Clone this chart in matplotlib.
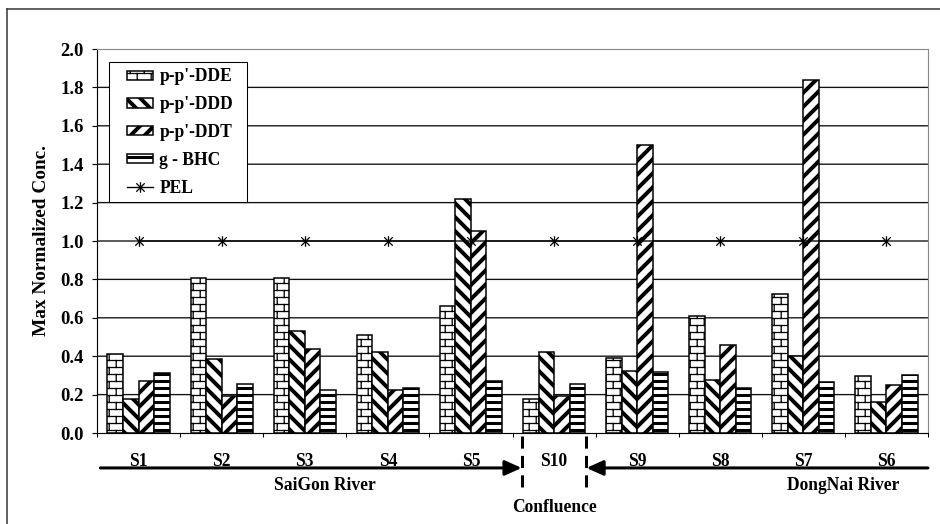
import numpy as np
import matplotlib
matplotlib.use("Agg")
import matplotlib.pyplot as plt
import matplotlib.hatch as mhatch
from matplotlib.path import Path
from matplotlib.lines import Line2D
from matplotlib.patches import Rectangle

# ---------------------------------------------------------------- data
sites = ["S1", "S2", "S3", "S4", "S5", "S10", "S9", "S8", "S7", "S6"]
dde = [0.41, 0.805, 0.805, 0.51, 0.66, 0.175, 0.39, 0.61, 0.725, 0.295]
ddd = [0.175, 0.385, 0.53, 0.42, 1.22, 0.42, 0.325, 0.275, 0.40, 0.16]
ddt = [0.27, 0.195, 0.44, 0.225, 1.05, 0.195, 1.50, 0.46, 1.84, 0.25]
bhc = [0.315, 0.255, 0.225, 0.235, 0.27, 0.255, 0.32, 0.235, 0.265, 0.30]
pel = [1.0, 1.0, 1.0, 1.0, 1.0, 1.0, 1.0, 1.0, 1.0, 1.0]
series_labels = ["p-p'-DDE", "p-p'-DDD", "p-p'-DDT", "g - BHC"]
pel_label = "PEL"
y_ticks = [0.0, 0.2, 0.4, 0.6, 0.8, 1.0, 1.2, 1.4, 1.6, 1.8, 2.0]
y_label = "Max Normalized Conc."
river_left = "SaiGon River"
river_right = "DongNai River"
junction = "Confluence"


# ------------------------------------------------------- brick hatch
class BrickHatch(mhatch.HatchPatternBase):
    """Running-bond brick courses, drawn for the 'O' hatch character."""

    def __init__(self, hatch, density):
        n = hatch.count("O")
        self.rows = int(n * density * 2)
        self.cols = int(n * density)
        self.num_vertices = (self.rows + (self.rows + 1) * self.cols) * 2

    def set_vertices_and_codes(self, vertices, codes):
        rows, cols = self.rows, self.cols
        k = 0
        for i in range(rows):
            y = (i + 0.5) / rows
            vertices[k] = (0.0, y)
            vertices[k + 1] = (1.0, y)
            k += 2
        for i in range(rows + 1):
            y0 = (i - 0.5) / rows
            shift = 0.5 / cols if i % 2 else 0.0
            for j in range(cols):
                xx = (j + 0.3) / cols + shift
                vertices[k] = (xx, y0)
                vertices[k + 1] = (xx, y0 + 1.0 / rows)
                k += 2
        codes[0::2] = Path.MOVETO
        codes[1::2] = Path.LINETO


mhatch._hatch_types = [BrickHatch if t is mhatch.LargeCircles else t
                       for t in mhatch._hatch_types]

# ------------------------------------------------------------ figure
DPI = 84
plt.rcParams["font.family"] = ["Liberation Serif", "DejaVu Serif"]
plt.rcParams["font.weight"] = "bold"
plt.rcParams["font.size"] = 15

fig = plt.figure(figsize=(940 / DPI, 524 / DPI), dpi=DPI)
fig.patch.set_facecolor("white")
ax = fig.add_axes([97 / 940, 1 - 433 / 524, (928 - 97) / 940, (433 - 49) / 524])

x = np.arange(len(sites))
width = 0.187
offsets = np.array([-1.5, -0.5, 0.5, 1.5]) * width
styles = [("O", 1.1), ("\\\\", 3.4), ("//", 3.4), ("--", 2.6)]

ax.set_xlim(-0.5, len(sites) - 0.5)
ax.set_ylim(0, 2.0)

# horizontal grid at every y tick
grid = ax.hlines(y_ticks[1:], -0.5, len(sites) - 0.5, colors="#111111",
                 linewidths=1.15, zorder=1)
grid.set_snap(False)

bar_sets = []
for vals, off, (hatch, hlw) in zip([dde, ddd, ddt, bhc], offsets, styles):
    with plt.rc_context({"hatch.linewidth": hlw}):
        bars = ax.bar(x + off, vals, width, facecolor="white",
                      edgecolor="black", linewidth=1.3, hatch=hatch, zorder=2)
    for b in bars:
        if hasattr(b, "set_hatch_linewidth"):
            b.set_hatch_linewidth(hlw)
    bar_sets.append(bars)

# asterisk marker: an x crossed by a vertical stroke
star = Path([(-1, -1), (1, 1), (-1, 1), (1, -1), (0, -1.25), (0, 1.25)],
            [Path.MOVETO, Path.LINETO] * 3)
pel_line, = ax.plot(x, pel, color="black", lw=1.15, marker=star,
                    markersize=9, markeredgewidth=1.1, markerfacecolor="none",
                    markeredgecolor="black", zorder=4, snap=False)

# axes
ax.set_yticks(y_ticks)
ax.set_yticklabels([f"{v:.1f}" for v in y_ticks])
ax.set_xticks(np.arange(len(sites) + 1) - 0.5)
ax.set_xticklabels([])
ax.tick_params(axis="y", direction="out", length=4.5, width=1, pad=7,
               labelsize=16)
ax.tick_params(axis="x", direction="out", length=3.5, width=0.9)
ax.set_ylabel(y_label, fontsize=16.5, fontweight="bold", labelpad=9)
for side in ("left", "bottom"):
    ax.spines[side].set_color("black")
    ax.spines[side].set_linewidth(1.0)
for side in ("top", "right"):
    ax.spines[side].set_color("#8a8a8a")
    ax.spines[side].set_linewidth(1.0)
    ax.spines[side].set_linestyle((0, (2, 1)))

# legend: entries without their own frame, boxed by a plain rectangle
leg = ax.legend(list(bar_sets) + [pel_line], series_labels + [pel_label],
                loc="upper left", bbox_to_anchor=(0.0361, 0.9495),
                borderaxespad=0, borderpad=0, fontsize=15,
                handlelength=1.49, handleheight=0.42, handletextpad=0.36,
                labelspacing=0.62, frameon=False)
leg.set_zorder(6)
for h, (hatch, hlw) in zip(leg.legend_handles[:4], styles):
    if hasattr(h, "set_hatch_linewidth"):
        h.set_hatch_linewidth(hlw)
ax.add_patch(Rectangle((0.01444, 0.6016), 0.1661, 0.3646,
                       transform=ax.transAxes, facecolor="white",
                       edgecolor="black", lw=0.9, zorder=5.5, clip_on=False))

# site row, river arrows and confluence markers under the axis
tr = ax.get_xaxis_transform()
for xi, s in zip(x, sites):
    ax.text(xi, -0.073, s, transform=tr, ha="center", va="center",
            fontsize=15, fontweight="bold", clip_on=False)

i_conf = sites.index("S10")
half = 0.39
arrow_kw = dict(arrowstyle="-|>,head_length=1.0,head_width=0.45",
                lw=2.6, color="black", mutation_scale=12,
                shrinkA=0, shrinkB=0)
ax.annotate("", xy=(i_conf - half, -0.091), xytext=(-0.46, -0.091),
            xycoords=tr, textcoords=tr, arrowprops=arrow_kw,
            annotation_clip=False)
ax.annotate("", xy=(i_conf + half, -0.091), xytext=(9.5, -0.091),
            xycoords=tr, textcoords=tr, arrowprops=arrow_kw,
            annotation_clip=False)
for xd in (i_conf - half, i_conf + half):
    ax.add_line(Line2D([xd, xd], [-0.008, -0.15], transform=tr,
                       color="black", lw=2.6, dashes=(4.0, 2.4),
                       clip_on=False))

ax.text(2.24, -0.138, river_left, transform=tr, ha="center", va="center",
        fontsize=15, fontweight="bold", clip_on=False)
ax.text(8.48, -0.138, river_right, transform=tr, ha="center", va="center",
        fontsize=15, fontweight="bold", clip_on=False)
ax.text(i_conf, -0.193, junction, transform=tr, ha="center", va="center",
        fontsize=15, fontweight="bold", clip_on=False)

# outer frame (left and top edges)
fx, fy = 7.5 / 940, 1 - 9 / 524
fig.add_artist(Line2D([fx, fx], [0, fy], transform=fig.transFigure,
                      color="#333333", lw=1.3))
fig.add_artist(Line2D([fx, 1], [fy, fy], transform=fig.transFigure,
                      color="#333333", lw=1.3))

fig.savefig("out.png", dpi=DPI, facecolor="white")
